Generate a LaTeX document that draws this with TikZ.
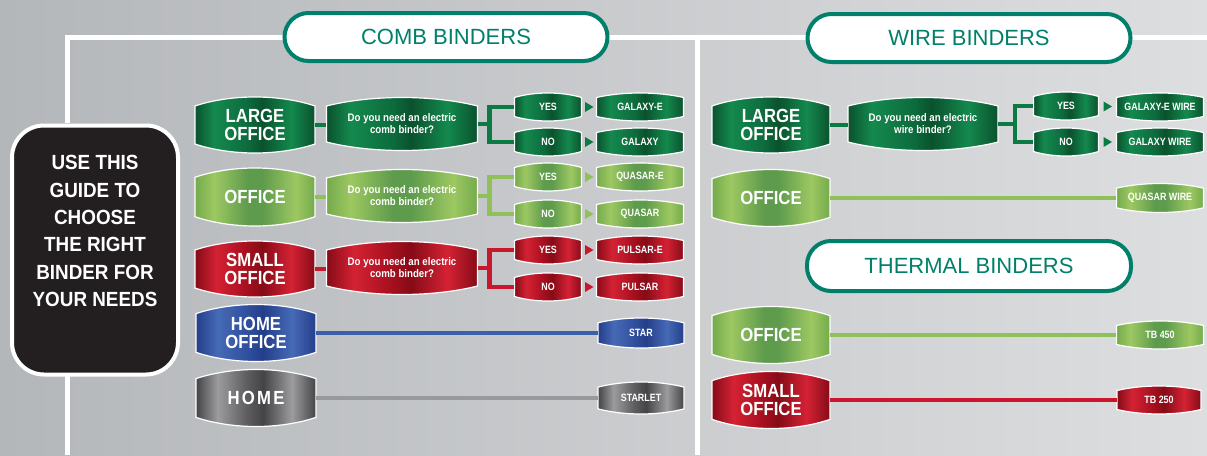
\documentclass[tikz,border=0pt]{standalone}
\usepackage{fontspec}
\usetikzlibrary{calc}
\newfontfamily\cond{Liberation Sans}[FakeStretch=0.88]
\newfontfamily\scond{Liberation Sans}[FakeStretch=0.84]
\newfontfamily\gfont{Liberation Sans}[FakeStretch=0.92]
\newfontfamily\hfont{Liberation Sans}
\definecolor{bgL}{HTML}{B4B7BA}
\definecolor{bgR}{HTML}{DDDEE0}
\definecolor{teal}{HTML}{00806A}
\definecolor{guideblk}{HTML}{231F20}
\definecolor{dgA}{HTML}{0A522D}
\definecolor{dgB}{HTML}{14894E}
\definecolor{dgC}{HTML}{0D6B3D}
\definecolor{lgA}{HTML}{74AA4C}
\definecolor{lgB}{HTML}{9DC862}
\definecolor{lgC}{HTML}{5E9B4C}
\definecolor{rdA}{HTML}{860B17}
\definecolor{rdB}{HTML}{D42234}
\definecolor{rdC}{HTML}{A8101F}
\definecolor{blA}{HTML}{243E8A}
\definecolor{blB}{HTML}{466AB6}
\definecolor{blC}{HTML}{30509E}
\definecolor{gyA}{HTML}{444446}
\definecolor{gyB}{HTML}{9C9C9E}
\definecolor{gyC}{HTML}{5E5E60}
\definecolor{dgl}{HTML}{0B7A44}
\definecolor{lgl}{HTML}{8FC05A}
\definecolor{rdl}{HTML}{C9182B}
\definecolor{bll}{HTML}{3B5FA8}
\definecolor{gyl}{HTML}{98999C}
\pgfdeclarehorizontalshading{dg}{100bp}{color(0bp)=(dgA); color(25bp)=(dgA); color(33bp)=(dgB); color(47bp)=(dgC); color(53bp)=(dgA); color(65bp)=(dgB); color(75bp)=(dgA); color(100bp)=(dgA)}
\pgfdeclarehorizontalshading{lg}{100bp}{color(0bp)=(lgA); color(25bp)=(lgA); color(33bp)=(lgB); color(47bp)=(lgC); color(53bp)=(lgC); color(67bp)=(lgB); color(75bp)=(lgA); color(100bp)=(lgA)}
\pgfdeclarehorizontalshading{rd}{100bp}{color(0bp)=(rdA); color(25bp)=(rdA); color(34bp)=(rdB); color(46bp)=(rdC); color(53bp)=(rdA); color(65bp)=(rdB); color(75bp)=(rdA); color(100bp)=(rdA)}
\pgfdeclarehorizontalshading{bl}{100bp}{color(0bp)=(blA); color(25bp)=(blA); color(34bp)=(blB); color(46bp)=(blC); color(53bp)=(blA); color(65bp)=(blB); color(75bp)=(blA); color(100bp)=(blA)}
\pgfdeclarehorizontalshading{gy}{100bp}{color(0bp)=(gyA); color(25bp)=(gyA); color(34bp)=(gyB); color(46bp)=(gyC); color(53bp)=(gyA); color(65bp)=(gyB); color(75bp)=(gyA); color(100bp)=(gyA)}
% #1 name, #2 x, #3 y, #4 w, #5 h, #6 shading, #7 style, #8 text
\newcommand\bnode[8]{%
  \begin{scope}[shift={(#2,#3)}]
    \pgfmathsetmacro\hw{#4/2}%
    \pgfmathsetmacro\hh{#5/2}%
    \pgfmathsetmacro\bb{#5*0.16}%
    \path[shade, shading=#6, draw=white, line width=1.2pt]
      (-\hw,{-\hh+\bb}) -- (-\hw,{\hh-\bb})
      .. controls ({-0.4*\hw},{\hh+\bb/3}) and ({0.4*\hw},{\hh+\bb/3}) .. (\hw,{\hh-\bb})
      -- (\hw,{-\hh+\bb})
      .. controls ({0.4*\hw},{-\hh-\bb/3}) and ({-0.4*\hw},{-\hh-\bb/3}) .. cycle;
  \end{scope}
  \node[inner sep=0, minimum width=#4pt, minimum height=#5pt, text=white, align=center, #7] (#1) at (#2,#3) {#8};}
\newcommand\tri[3]{\fill[#3] ($(#1.east)!0.5!(#2.west)$) +(-4,-5) -- +(4.5,0) -- +(-4,5) -- cycle;}
\begin{document}
\begin{tikzpicture}[x=1pt,y=-1pt,
  big/.style={font=\cond\bfseries\fontsize{19}{18.5}\selectfont},
  qs/.style={font=\cond\bfseries\fontsize{11}{12}\selectfont},
  sm/.style={font=\scond\bfseries\fontsize{10.6}{11}\selectfont},
  header/.style={draw=teal, line width=4pt, fill=white, rounded corners=24pt, text=teal,
    minimum width=323pt, minimum height=48pt, inner sep=0, font=\hfont\fontsize{22}{24}\selectfont},
  wline/.style={draw=white, line width=5pt},
  conn/.style={line width=4.5pt, line join=miter},
]
\useasboundingbox (0,0) rectangle (1207,455);
\shade[left color=bgL, right color=bgR] (0,0) rectangle (1207,455);

\coordinate (rend) at (1207,37);
\coordinate (midtop) at (697,37);
\coordinate (midbot) at (697,455);
\coordinate (lbot) at (67,455);
\coordinate (ltop) at (67,123);
\coordinate (lmid) at (67,376);

% white guide lines
\draw[wline] (ltop) |- (446,37) -- (rend);
\draw[wline] (lmid) -- (lbot);
\draw[wline] (midtop) -- (midbot);

% headers and guide
\node[header] (comb) at (446,37) {COMB BINDERS};
\node[header] (wire) at (969,38) {WIRE BINDERS};
\node[header, minimum width=324pt, minimum height=50pt] (therm) at (969,266) {THERMAL BINDERS};
\node[draw=white, line width=4pt, fill=guideblk, rounded corners=32pt, minimum width=166pt, minimum height=249pt] (guide) at (95,250) {};
\node[text=white, align=center, font=\gfont\bfseries\fontsize{20.5}{27.3}\selectfont] (guidetext) at (95,231)
  {USE THIS\\GUIDE TO\\CHOOSE\\THE RIGHT\\BINDER FOR\\YOUR NEEDS};

% ---- comb binders ----
\bnode{lo1}{255}{125}{120}{56}{dg}{big}{LARGE\\OFFICE}
\bnode{q1}{402}{124}{151}{53}{dg}{qs}{Do you need an electric\\comb binder?}
\bnode{y1}{548}{107}{67}{28}{dg}{sm}{YES}
\bnode{n1}{548}{142}{67}{28}{dg}{sm}{NO}
\bnode{ge}{640}{107}{87}{28}{dg}{sm}{GALAXY-E}
\bnode{ga}{640}{142}{87}{28}{dg}{sm}{GALAXY}

\bnode{o2}{255}{197}{120}{58}{lg}{big}{OFFICE}
\bnode{q2}{402}{196}{151}{53}{lg}{qs}{Do you need an electric\\comb binder?}
\bnode{y2}{548}{177}{67}{28}{lg}{sm}{YES}
\bnode{n2}{548}{214}{67}{28}{lg}{sm}{NO}
\bnode{qe}{640}{177}{87}{28}{lg}{sm}{QUASAR-E}
\bnode{qa}{640}{214}{87}{28}{lg}{sm}{QUASAR}

\bnode{so3}{255}{269}{120}{56}{rd}{big}{SMALL\\OFFICE}
\bnode{q3}{402}{268}{151}{53}{rd}{qs}{Do you need an electric\\comb binder?}
\bnode{y3}{548}{250}{67}{28}{rd}{sm}{YES}
\bnode{n3}{548}{287}{67}{28}{rd}{sm}{NO}
\bnode{pe}{640}{250}{87}{28}{rd}{sm}{PULSAR-E}
\bnode{pa}{640}{287}{87}{28}{rd}{sm}{PULSAR}

\bnode{ho}{256}{333}{120}{57}{bl}{big}{HOME\\OFFICE}
\bnode{st}{641}{333}{86}{30}{bl}{sm}{STAR}
\bnode{hm}{256}{398}{120}{57}{gy}{big, font=\cond\bfseries\fontsize{19}{18.5}\selectfont\addfontfeature{LetterSpace=12}}{HOME}
\bnode{sl}{641}{398}{86}{32}{gy}{sm}{STARLET}

\draw[conn, dgl] (lo1.east) -- (lo1.east -| q1.west);
\draw[conn, dgl] (q1.east) -- ++(12,0) coordinate (b1) |- (y1.west);
\draw[conn, dgl] (b1) |- (n1.west);
\tri{y1}{ge}{dgl}\tri{n1}{ga}{dgl}

\draw[conn, lgl] (o2.east) -- (o2.east -| q2.west);
\draw[conn, lgl] (q2.east) -- ++(12,0) coordinate (b2) |- (y2.west);
\draw[conn, lgl] (b2) |- (n2.west);
\tri{y2}{qe}{lgl}\tri{n2}{qa}{lgl}

\draw[conn, rdl] (so3.east) -- (so3.east -| q3.west);
\draw[conn, rdl] (q3.east) -- ++(12,0) coordinate (b3) |- (y3.west);
\draw[conn, rdl] (b3) |- (n3.west);
\tri{y3}{pe}{rdl}\tri{n3}{pa}{rdl}

\draw[conn, bll] (ho.east) -- (st.west);
\draw[conn, gyl] (hm.east) -- (sl.west);

% ---- wire binders ----
\bnode{wlo}{771}{125}{118}{56}{dg}{big}{LARGE\\OFFICE}
\bnode{wq}{923}{124}{150}{53}{dg}{qs}{Do you need an electric\\wire binder?}
\bnode{wy}{1066}{106}{65}{28}{dg}{sm}{YES}
\bnode{wn}{1066}{142}{65}{28}{dg}{sm}{NO}
\bnode{wge}{1160}{107}{87}{28}{dg}{sm}{GALAXY-E WIRE}
\bnode{wga}{1160}{142}{87}{28}{dg}{sm}{GALAXY WIRE}
\bnode{wo}{771}{198}{118}{57}{lg}{big}{OFFICE}
\bnode{qw}{1160}{198}{87}{29}{lg}{sm}{QUASAR WIRE}

\draw[conn, dgl] (wlo.east) -- (wlo.east -| wq.west);
\draw[conn, dgl] (wq.east) -- ++(17,0) coordinate (b4) |- (wy.west);
\draw[conn, dgl] (b4) |- (wn.west);
\tri{wy}{wge}{dgl}\tri{wn}{wga}{dgl}
\draw[conn, lgl] (wo.east) -- (qw.west);

% ---- thermal binders ----
\bnode{to}{771}{335}{118}{57}{lg}{big}{OFFICE}
\bnode{t450}{1160}{335}{87}{28}{lg}{sm}{TB 450}
\bnode{tso}{771}{400}{118}{57}{rd}{big}{SMALL\\OFFICE}
\bnode{t250}{1159}{400}{84}{28}{rd}{sm}{TB 250}
\draw[conn, lgl] (to.east) -- (t450.west);
\draw[conn, rdl] (tso.east) -- (t250.west);
\end{tikzpicture}
\end{document}
